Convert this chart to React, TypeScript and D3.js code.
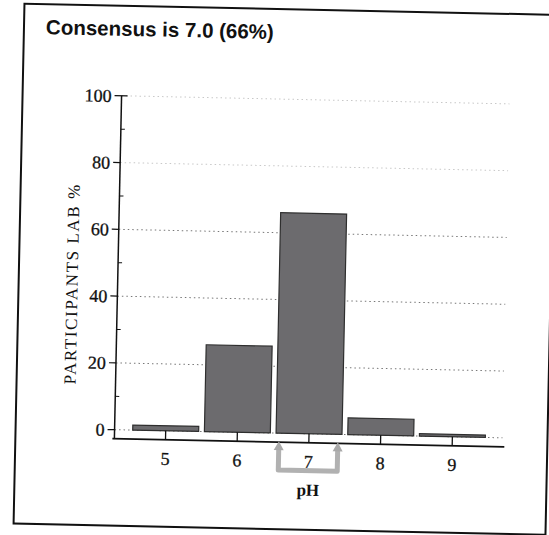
import * as d3 from "d3";

const phValues = ["5", "6", "7", "8", "9"];
const participantPct = [1.5, 26, 66, 5, 0.7];
const yTicks = [0, 20, 40, 60, 80, 100];
const yMinorTicks = [10, 30, 50, 70, 90];
const consensusPh = "7";
const title = "Consensus is 7.0 (66%)";

const W = 549;
const H = 535;

export default function App() {
  const x = d3
    .scaleBand<string>()
    .domain(phValues)
    .range([134, 491])
    .paddingInner(0.08)
    .paddingOuter(0.03);
  const y = d3.scaleLinear().domain([0, 100]).range([433, 99]);

  const axisX0 = 118;
  const axisX1 = 508;
  const axisY = 442;
  const serif = "'Liberation Serif', 'DejaVu Serif', serif";

  const bx0 = (x(consensusPh) ?? 0) + 3;
  const bx1 = (x(consensusPh) ?? 0) + x.bandwidth() - 4;
  const bBottom = 470;

  return (
    <svg width={W} height={H} style={{ position: "absolute", left: 0, top: 0 }}>
      <rect width={W} height={H} fill="#fff" />
      <g transform={`rotate(1.2, ${W / 2}, ${H / 2})`}>
        <rect x={19} y={9} width={532} height={520} fill="none" stroke="#111" strokeWidth={2} />
        <text
          x={41}
          y={39}
          fontFamily="'Liberation Sans', Arial, sans-serif"
          fontWeight="bold"
          fontSize={20.5}
          fill="#111"
        >
          {title}
        </text>

        {/* dotted grid */}
        {yTicks.map((t) => (
          <line
            key={"g" + t}
            x1={axisX0}
            x2={axisX1 - 2}
            y1={y(t)}
            y2={y(t)}
            stroke={t >= 80 ? "#c8c8c8" : "#777"}
            strokeWidth={1}
            strokeDasharray="1.5,3"
          />
        ))}

        {/* bars */}
        {phValues.map((p, i) => (
          <rect
            key={p}
            x={x(p)}
            y={y(participantPct[i])}
            width={x.bandwidth()}
            height={y(0) - y(participantPct[i])}
            fill="#6c6b6e"
            stroke="#2e2e2e"
            strokeWidth={1.2}
          />
        ))}

        {/* y axis */}
        <line x1={axisX0} x2={axisX0} y1={y(100)} y2={axisY} stroke="#111" strokeWidth={1.5} />
        {yTicks.map((t) => (
          <g key={"yt" + t}>
            <line
              x1={axisX0 - 7}
              x2={t === 100 ? axisX0 + 6 : axisX0}
              y1={y(t)}
              y2={y(t)}
              stroke="#111"
              strokeWidth={1.2}
            />
            <text
              x={axisX0 - 10}
              y={y(t)}
              dy="0.35em"
              textAnchor="end"
              fontFamily={serif}
              fontSize={18}
              stroke="#111"
              strokeWidth={0.3}
              fill="#111"
            >
              {t}
            </text>
          </g>
        ))}
        {yMinorTicks.map((t) => (
          <line
            key={"ym" + t}
            x1={axisX0}
            x2={axisX0 + 4}
            y1={y(t)}
            y2={y(t)}
            stroke="#111"
            strokeWidth={1}
          />
        ))}
        <text
          transform={`translate(78, ${(y(0) + y(100)) / 2 + 22}) rotate(-90)`}
          textAnchor="middle"
          fontFamily={serif}
          fontSize={17}
          letterSpacing={1.6}
          fill="#111"
        >
          PARTICIPANTS LAB %
        </text>

        {/* x axis */}
        <line x1={axisX0 - 2} x2={axisX1} y1={axisY} y2={axisY} stroke="#111" strokeWidth={1.8} />
        {phValues.map((p) => {
          const cx = (x(p) ?? 0) + x.bandwidth() / 2;
          return (
            <g key={"xt" + p}>
              <line x1={cx} x2={cx} y1={y(0)} y2={axisY} stroke="#111" strokeWidth={1.3} />
              <text
                x={cx}
                y={467}
                textAnchor="middle"
                fontFamily={serif}
                fontSize={18}
                stroke="#111"
                strokeWidth={0.3}
                fill="#111"
              >
                {p}
              </text>
            </g>
          );
        })}

        {/* consensus bracket */}
        <path
          d={`M${bx0},${axisY + 6} V${bBottom} H${bx1} V${axisY + 6}`}
          fill="none"
          stroke="#a9a9a9"
          strokeWidth={5}
          strokeLinejoin="round"
          opacity={0.9}
        />
        {[bx0, bx1].map((bx) => (
          <path
            key={"ar" + bx}
            d={`M${bx - 5},${axisY + 8} L${bx},${axisY - 1} L${bx + 5},${axisY + 8} Z`}
            fill="#a9a9a9"
          />
        ))}

        <text
          x={(x(consensusPh) ?? 0) + x.bandwidth() / 2}
          y={495}
          textAnchor="middle"
          fontFamily={serif}
          fontWeight="bold"
          fontSize={17}
          fill="#111"
        >
          pH
        </text>
      </g>
    </svg>
  );
}
